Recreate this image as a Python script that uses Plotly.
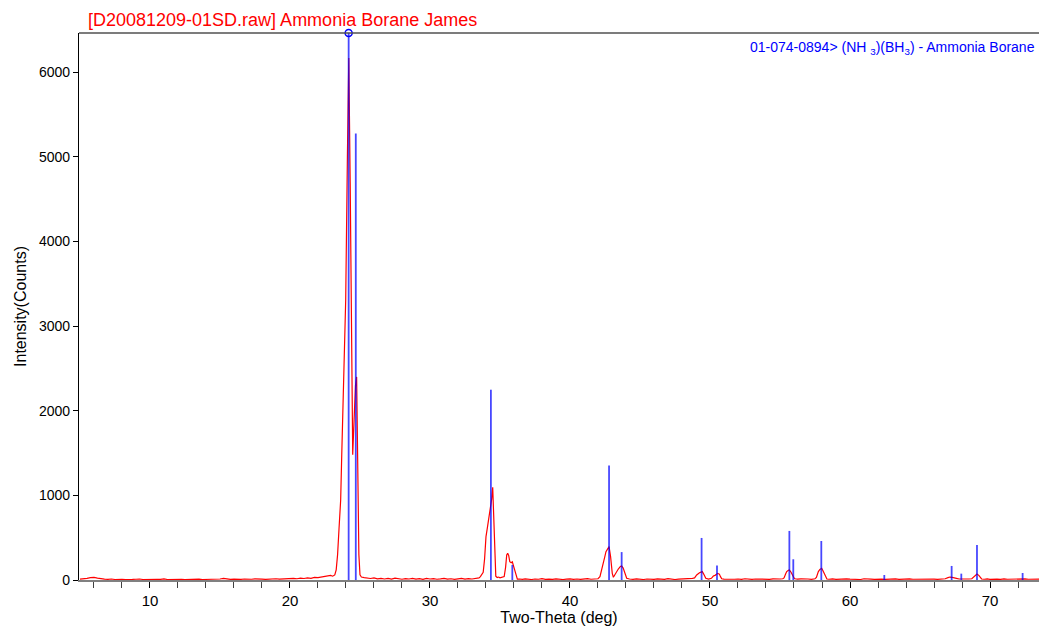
import plotly.graph_objects as go

two_theta = [
    5.0, 5.25, 5.5, 5.75, 6.0, 6.25, 6.5, 6.75, 7.0, 7.25, 7.5, 7.75, 8.0, 8.25, 8.5, 8.75,
    9.0, 9.25, 9.5, 9.75, 10.0, 10.25, 10.5, 10.75, 11.0, 11.25, 11.5, 11.75, 12.0, 12.25,
    12.5, 12.75, 13.0, 13.25, 13.5, 13.75, 14.0, 14.25, 14.5, 14.75, 15.0, 15.25, 15.5, 15.75,
    16.0, 16.25, 16.5, 16.75, 17.0, 17.25, 17.5, 17.75, 18.0, 18.25, 18.5, 18.75, 19.0, 19.25,
    19.5, 19.75, 20.0, 20.25, 20.5, 20.75, 21.0, 21.25, 21.5, 21.75, 22.0, 22.25, 22.5, 22.75,
    22.9, 23.05, 23.2, 23.3, 23.4, 23.5, 23.62, 23.7, 23.8, 23.9, 23.98, 24.1, 24.2, 24.3,
    24.4, 24.48, 24.58, 24.68, 24.76, 24.85, 24.92, 25.0, 25.1, 25.3, 25.5, 25.75, 26.0, 26.25,
    26.5, 26.75, 27.0, 27.25, 27.5, 27.75, 28.0, 28.25, 28.5, 28.75, 29.0, 29.25, 29.5, 29.75,
    30.0, 30.25, 30.5, 30.75, 31.0, 31.25, 31.5, 31.75, 32.0, 32.25, 32.5, 32.75, 33.0, 33.25,
    33.5, 33.6, 33.7, 33.8, 33.9, 34.0, 34.1, 34.17, 34.25, 34.33, 34.4, 34.48, 34.55, 34.6,
    34.65, 34.7, 34.8, 34.9, 35.0, 35.1, 35.2, 35.3, 35.4, 35.48, 35.55, 35.62, 35.7, 35.8,
    35.88, 35.95, 36.07, 36.15, 36.24, 36.4, 36.6, 36.8, 37.0, 37.25, 37.5, 37.75, 38.0, 38.25,
    38.5, 38.75, 39.0, 39.25, 39.5, 39.75, 40.0, 40.25, 40.5, 40.75, 41.0, 41.25, 41.5, 41.75,
    42.0, 42.14, 42.26, 42.38, 42.48, 42.57, 42.7, 42.79, 42.9, 42.96, 43.02, 43.1, 43.2, 43.3,
    43.45, 43.6, 43.69, 43.8, 43.88, 43.96, 44.05, 44.25, 44.5, 44.75, 45.0, 45.25, 45.5, 45.75,
    46.0, 46.25, 46.5, 46.75, 47.0, 47.25, 47.5, 47.75, 48.0, 48.25, 48.5, 48.75, 48.9, 49.05,
    49.25, 49.45, 49.55, 49.7, 49.9, 50.1, 50.24, 50.36, 50.55, 50.67, 50.75, 50.84, 51.0, 51.25,
    51.5, 51.75, 52.0, 52.25, 52.5, 52.75, 53.0, 53.25, 53.5, 53.75, 54.0, 54.25, 54.5, 54.75,
    55.0, 55.2, 55.29, 55.4, 55.48, 55.6, 55.67, 55.78, 55.88, 56.0, 56.07, 56.25, 56.5, 56.75,
    57.0, 57.25, 57.5, 57.6, 57.74, 57.85, 57.98, 58.07, 58.17, 58.27, 58.35, 58.5, 58.75, 59.0,
    59.25, 59.5, 59.75, 60.0, 60.25, 60.5, 60.75, 61.0, 61.25, 61.5, 61.75, 62.0, 62.25, 62.5,
    62.75, 63.0, 63.25, 63.5, 63.75, 64.0, 64.25, 64.5, 64.75, 65.0, 65.25, 65.5, 65.75, 66.0,
    66.25, 66.5, 66.8, 67.0, 67.14, 67.3, 67.45, 67.6, 67.8, 68.0, 68.25, 68.5, 68.7, 68.85,
    69.0, 69.07, 69.2, 69.3, 69.4, 69.6, 69.8, 70.0, 70.25, 70.5, 70.75, 71.0, 71.25, 71.5,
    71.75, 72.0, 72.25, 72.5, 72.75, 73.0, 73.25, 73.6,
]
counts = [
    10, 12, 20, 28, 30, 22, 12, 10, 8, 12, 6, 10, 8, 5, 10, 7,
    9, 12, 6, 8, 10, 5, 9, 7, 12, 6, 8, 5, 10, 7,
    6, 9, 5, 8, 11, 6, 7, 9, 5, 8, 12, 18, 9, 7,
    10, 6, 8, 12, 7, 9, 14, 8, 10, 7, 12, 9, 15, 10,
    13, 18, 12, 20, 15, 22, 18, 25, 20, 30, 28, 35, 40, 48,
    55, 45, 60, 120, 300, 600, 946, 1500, 2126, 2800, 3315, 5000, 6170, 4700,
    2600, 1480, 1900, 2300, 2400, 1200, 300, 60, 35, 28, 22, 18, 25, 14,
    20, 12, 18, 10, 22, 14, 9, 17, 12, 20, 10, 15, 8, 18,
    12, 16, 9, 14, 20, 11, 15, 8, 13, 18, 10, 16, 12, 20,
    25, 40, 60, 90, 250, 512, 620, 690, 760, 828, 950, 1097, 750, 473,
    200, 45, 30, 35, 25, 30, 28, 40, 150, 296, 316, 290, 217, 205,
    215, 180, 118, 60, 10, 12, 8, 14, 10, 6, 12, 9, 15, 8,
    11, 7, 13, 9, 6, 10, 14, 8, 12, 7, 10, 16, 9, 12,
    15, 40, 110, 197, 270, 335, 380, 394, 276, 170, 79, 32, 60, 99,
    130, 160, 166, 140, 99, 50, 20, 12, 8, 14, 10, 6, 12, 9,
    7, 13, 10, 8, 15, 9, 6, 11, 14, 8, 12, 20, 25, 59,
    85, 99, 70, 20, 10, 20, 47, 55, 79, 70, 40, 15, 10, 8,
    13, 9, 12, 7, 15, 10, 8, 12, 9, 14, 11, 8, 13, 10,
    12, 15, 25, 70, 99, 115, 118, 95, 59, 25, 15, 10, 14, 9,
    12, 8, 15, 30, 99, 125, 138, 110, 71, 30, 12, 9, 13, 8,
    11, 7, 14, 10, 9, 12, 6, 15, 9, 11, 8, 13, 10, 7,
    12, 9, 14, 8, 11, 6, 13, 9, 10, 12, 7, 14, 9, 11,
    8, 12, 15, 28, 35, 30, 28, 20, 12, 10, 8, 12, 15, 40,
    68, 71, 55, 30, 12, 9, 14, 8, 12, 10, 7, 13, 9, 11,
    8, 12, 10, 14, 9, 11, 8, 10,
]

# Reference card 01-074-0894 stick positions and heights
ref_pos = [24.19, 24.70, 34.35, 35.88, 42.79, 43.69, 49.40, 50.50, 55.67, 55.95,
           57.95, 62.45, 67.26, 67.95, 69.07, 72.33]
ref_height = [6465, 5278, 2249, 178, 1353, 330, 497, 170, 580, 245,
              461, 59, 166, 75, 414, 83]

x_range = [4.93, 73.5]
y_range = [0, 6465]
y_ticks = [0, 1000, 2000, 3000, 4000, 5000, 6000]
x_ticks = [10, 20, 30, 40, 50, 60, 70]

FONT = "Liberation Sans, Arial, sans-serif"

fig = go.Figure()

fig.add_trace(go.Scatter(
    x=two_theta, y=counts, mode="lines",
    line=dict(color="#ff0000", width=1.2),
    hoverinfo="skip", showlegend=False,
))

stick_x, stick_y = [], []
for p, h in zip(ref_pos, ref_height):
    stick_x += [p, p, None]
    stick_y += [0, h, None]

fig.add_trace(go.Scatter(
    x=stick_x, y=stick_y, mode="lines",
    line=dict(color="rgba(0,0,255,0.72)", width=1.8),
    hoverinfo="skip", showlegend=False,
))

top_i = ref_height.index(max(ref_height))
fig.add_trace(go.Scatter(
    x=[ref_pos[top_i]], y=[ref_height[top_i]], mode="markers",
    marker=dict(symbol="circle-open", size=7, color="#0000ff", line=dict(width=1.5)),
    cliponaxis=False, hoverinfo="skip", showlegend=False,
))

fig.update_layout(
    width=1039, height=628,
    margin=dict(l=79, r=0, t=33, b=48),
    paper_bgcolor="white", plot_bgcolor="white",
    font=dict(family=FONT, color="#000000"),
    title=dict(
        text="[D20081209-01SD.raw] Ammonia Borane James",
        font=dict(family=FONT, size=18, color="#ff0000"),
        x=88 / 1039, xref="container", xanchor="left",
        y=1 - 20 / 628, yref="container", yanchor="middle",
    ),
    xaxis=dict(
        range=x_range, tickvals=x_ticks, ticks="outside", ticklen=6, tickwidth=1,
        tickcolor="#000000", showline=True, linecolor="#808080", linewidth=1.5,
        showgrid=False, zeroline=False,
        tickfont=dict(size=15),
        minor=dict(dtick=2, tick0=0, ticks="outside", ticklen=6, tickcolor="#404040", showgrid=False),
        title=dict(text="Two-Theta (deg)", font=dict(size=16), standoff=4),
    ),
    yaxis=dict(
        range=y_range, tickvals=y_ticks, ticks="outside", ticklen=5, tickwidth=1,
        tickcolor="#000000", showline=True, linecolor="#000000", linewidth=1.2,
        showgrid=False, zeroline=False,
        tickfont=dict(size=14),
        title=dict(text="Intensity(Counts)", font=dict(size=16), standoff=8),
    ),
    shapes=[dict(type="line", xref="paper", yref="paper", x0=0, x1=1, y0=1, y1=1,
                 line=dict(color="#505050", width=1.5))],
    annotations=[dict(
        text="01-074-0894> (NH <sub>3</sub>)(BH<sub>3</sub>) - Ammonia Borane",
        xref="paper", yref="paper", x=0.998, y=1 - 15 / 547,
        xanchor="right", yanchor="middle", showarrow=False,
        font=dict(family=FONT, size=14, color="#0000ff"),
    )],
)

fig.write_html("out.html")
